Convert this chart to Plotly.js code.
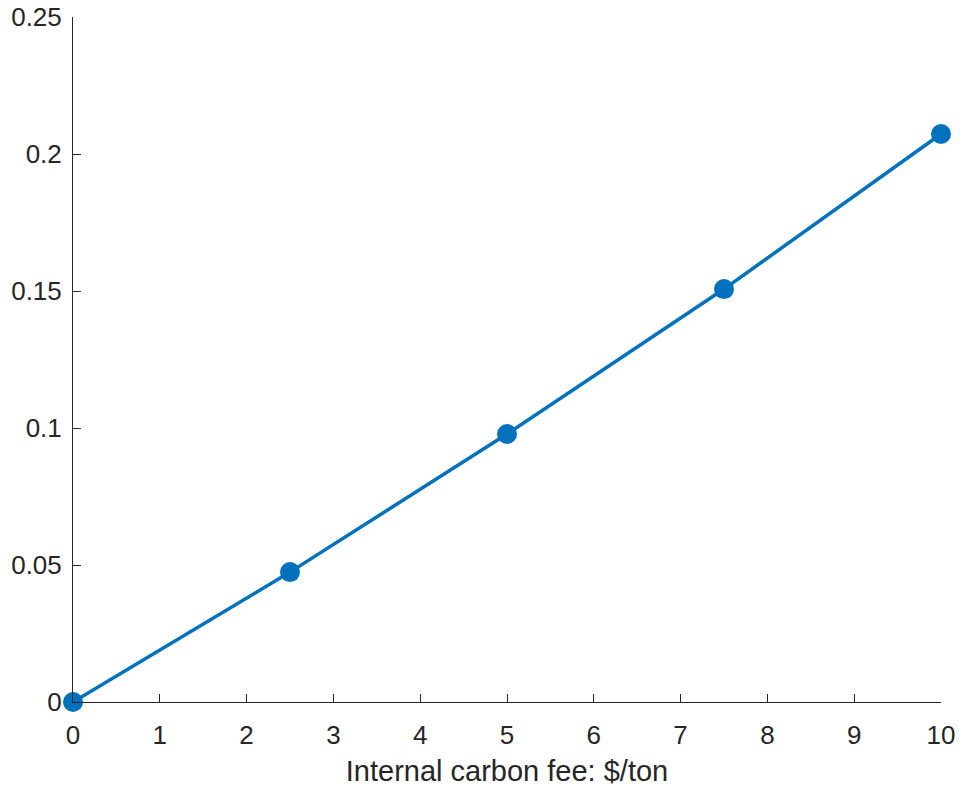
<!DOCTYPE html>
<html>
<head>
<meta charset="utf-8">
<script src="https://cdn.plot.ly/plotly-3.0.1.min.js"></script>
<style>html,body{margin:0;padding:0;background:#fff;}#chart{width:960px;height:789px;}</style>
</head>
<body>
<div id="chart"></div>
<script>
const fee = [0, 2.5, 5, 7.5, 10];
const values = [0, 0.0474, 0.0978, 0.1507, 0.2073];
const xTicks = [0, 1, 2, 3, 4, 5, 6, 7, 8, 9, 10];
const yTicks = [0, 0.05, 0.1, 0.15, 0.2, 0.25];
const yTickLabels = ['0', '0.05', '0.1', '0.15', '0.2', '0.25'];

const trace = {
  x: fee, y: values, type: 'scatter', mode: 'lines+markers',
  line: {color: '#0072BD', width: 3.5},
  marker: {color: '#0072BD', size: 20},
  cliponaxis: false
};
const axisCommon = {
  showline: true, linecolor: '#262626', linewidth: 1,
  ticks: 'inside', ticklen: 8, tickwidth: 1, tickcolor: '#262626',
  showgrid: false, zeroline: false, mirror: false,
  tickfont: {family: 'Liberation Sans, Arial, sans-serif', size: 26, color: '#262626'}
};
const layout = {
  width: 960, height: 789,
  margin: {l: 73, r: 19, t: 17, b: 87},
  paper_bgcolor: '#fff', plot_bgcolor: '#fff',
  showlegend: false,
  xaxis: Object.assign({}, axisCommon, {
    range: [0, 10], tickvals: xTicks, ticktext: xTicks.map(String),
    ticklabelstandoff: 10,
    title: {text: 'Internal carbon fee: $/ton', standoff: 11,
      font: {family: 'Liberation Sans, Arial, sans-serif', size: 29, color: '#262626'}}
  }),
  yaxis: Object.assign({}, axisCommon, {
    range: [0, 0.25], tickvals: yTicks, ticktext: yTickLabels,
    ticklabelstandoff: 5
  })
};
Plotly.newPlot('chart', [trace], layout, {staticPlot: true});
</script>
</body>
</html>
